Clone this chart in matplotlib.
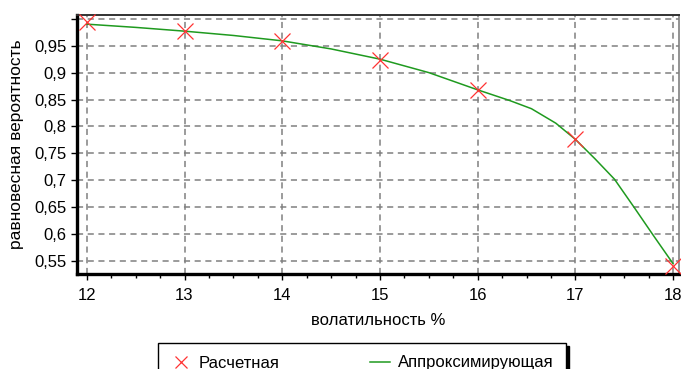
import matplotlib
matplotlib.use("Agg")
import matplotlib.pyplot as plt
from matplotlib.ticker import MultipleLocator

plt.rcParams["font.family"] = ["Liberation Sans", "DejaVu Sans"]

# computed points (volatility %, equilibrium probability)
calc_x = [12, 13, 14, 15, 16, 17, 18]
calc_y = [0.994, 0.978, 0.959, 0.924, 0.868, 0.776, 0.541]

# approximating curve
fit_x = [12.0, 12.5, 13.0, 13.5, 14.0, 14.5, 15.0, 15.5, 16.0, 16.33, 16.55,
         16.8, 17.0, 17.2, 17.4, 17.6, 17.8, 18.0]
fit_y = [0.990, 0.984, 0.977, 0.969, 0.959, 0.944, 0.925, 0.900, 0.868, 0.848,
         0.833, 0.806, 0.776, 0.740, 0.702, 0.650, 0.597, 0.545]

x_ticks = [12, 13, 14, 15, 16, 17, 18]
y_ticks = [0.55, 0.6, 0.65, 0.7, 0.75, 0.8, 0.85, 0.9, 0.95, 1.0]
y_labels = ["0,55", "0,6", "0,65", "0,7", "0,75", "0,8", "0,85", "0,9", "0,95", ""]

fig = plt.figure(figsize=(6.81, 3.69), dpi=100)
ax = fig.add_axes([77 / 681, 1 - 274 / 369, 602 / 681, 259 / 369])

ax.plot(fit_x, fit_y, color="#1f9a1f", lw=1.1, label="Аппроксимирующая", zorder=3)
ax.plot(calc_x, calc_y, ls="none", marker="x", ms=11, mew=0.9, color="#ff3333",
        label="Расчетная", zorder=4, clip_on=False)

ax.set_xlim(11.9, 18.06)
ax.set_ylim(0.526, 1.007)
ax.set_xticks(x_ticks)
ax.xaxis.set_minor_locator(MultipleLocator(0.25))
ax.set_yticks(y_ticks)
ax.set_yticklabels(y_labels)

ax.grid(True, which="major", color="#808080", ls=(0, (4, 3)), lw=1.1)
ax.tick_params(axis="both", which="major", labelsize=12, length=4, width=1,
               direction="out", color="black")
ax.tick_params(axis="x", which="major", pad=6)
ax.tick_params(axis="x", which="minor", length=3, width=1, direction="out")

ax.spines["left"].set_linewidth(2.4)
ax.spines["bottom"].set_linewidth(2.4)
ax.spines["top"].set_linewidth(1.4)
ax.spines["top"].set_color("#333333")
ax.spines["right"].set_linewidth(1.2)
ax.spines["right"].set_color("#808080")

ax.set_xlabel("волатильность %", fontsize=12, labelpad=7)
ax.set_ylabel("равновесная вероятность", fontsize=12.5, labelpad=7)

handles, labels = ax.get_legend_handles_labels()
leg = fig.legend(handles[::-1], labels[::-1], ncol=2, loc="upper left",
                 bbox_to_anchor=(158 / 681, 1 - 343 / 369), fontsize=12,
                 frameon=True, fancybox=False, edgecolor="black",
                 shadow={"color": "black", "alpha": 1}, borderaxespad=0,
                 handlelength=1.2, handletextpad=0.5, columnspacing=5.4,
                 borderpad=0.75, markerscale=0.75)
leg.get_frame().set_linewidth(1.0)

fig.savefig("out.png", dpi=100)
